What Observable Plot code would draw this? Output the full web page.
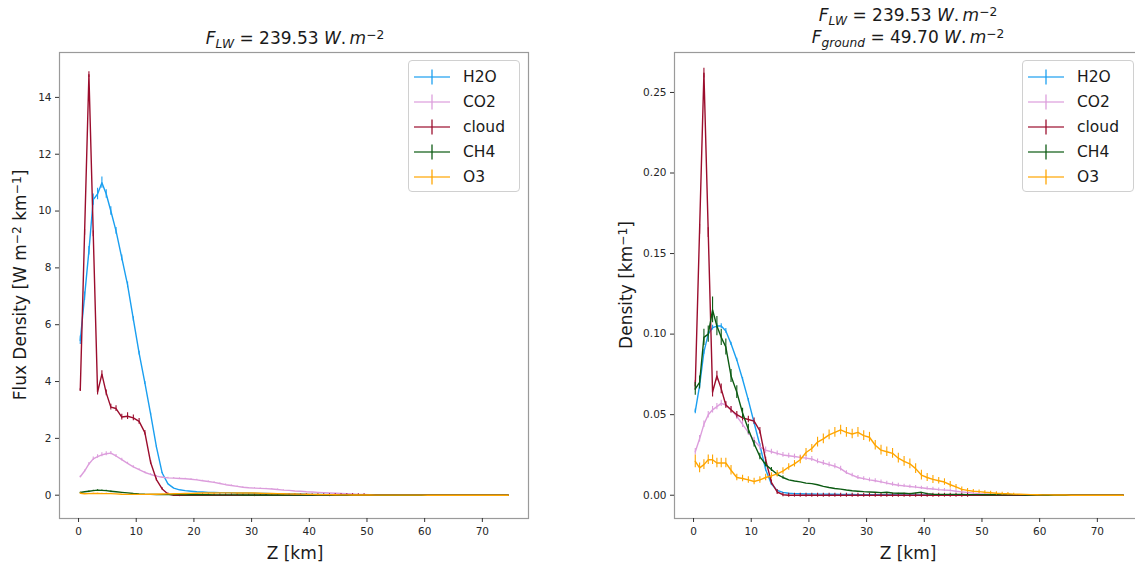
<!DOCTYPE html>
<html>
<head>
<meta charset="utf-8">
<script src="https://cdn.jsdelivr.net/npm/d3@7"></script>
<script src="https://cdn.jsdelivr.net/npm/@observablehq/plot@0.6"></script>
<style>
  html, body { margin: 0; padding: 0; background: #fff; }
  body { width: 1135px; height: 568px; position: relative; overflow: hidden; font-family: "DejaVu Sans", sans-serif; color: #1a1a1a; }
  .abs { position: absolute; }
  .abs svg { max-width: none !important; }
  .title { font-size: 17px; line-height: 20px; text-align: center; white-space: nowrap; transform: translateX(-50%); }
  .sub { font-size: 0.72em; position: relative; top: 0.32em; }
  .sup { font-size: 0.72em; position: relative; top: -0.45em; }
  .xlabel { font-size: 17px; line-height: 20px; white-space: nowrap; transform: translateX(-50%); }
  .ylabel { font-size: 17px; line-height: 20px; white-space: nowrap; transform: translate(-50%, -50%) rotate(-90deg); }
  .legend { border: 1px solid #d0d0d0; border-radius: 4px; background: rgba(255,255,255,0.85); box-sizing: border-box; padding-top: 3px; }
  .legend .row { height: 25px; display: flex; align-items: center; font-size: 15.5px; }
  .legend svg { margin-left: 5px; margin-right: 13px; }
</style>
</head>
<body>
<script>
// ---------- data ----------
const names = ["H2O", "CO2", "cloud", "CH4", "O3"];
const colors = ["#1a9ff0", "#dc9ddc", "#9b0d2d", "#0b5a12", "#ffa500"];
const xTicks = [0, 10, 20, 30, 40, 50, 60, 70];
const yTicksFlux = [0, 2, 4, 6, 8, 10, 12, 14];
const yTicksDens = [0, 0.05, 0.10, 0.15, 0.20, 0.25];

// altitude of each level [km]
const Z = [0.3, 1.05, 1.8, 2.55, 3.3, 4.05, 4.8, 5.6,
  6.5, 7.5, 8.5, 9.5, 10.5, 11.5, 12.5, 13.5, 14.5, 15.5,
  16.5, 17.5, 18.5, 19.5, 20.5, 21.5, 22.5, 23.5, 24.5, 25.5,
  26.5, 27.5, 28.5, 29.5, 30.5, 31.5, 32.5, 33.5, 34.5, 35.5,
  36.5, 37.5, 38.5, 39.5, 40.5, 41.5, 42.5, 43.5, 44.5, 45.5,
  46.5, 47.5, 48.5, 49.5, 50.5, 51.5, 52.5, 53.5, 54.5, 55.5,
  56.5, 57.5, 58.5, 59.5, 60.5, 61.5, 62.5, 63.5, 64.5, 65.5,
  66.5, 67.5, 68.5, 69.5, 70.5, 71.5, 72.5, 73.5, 74.5];

// ---- left panel: flux density [W m-2 km-1] ----
const h2oFlux = [5.45, 7.0, 8.6, 10.4, 10.6, 11.0, 10.6, 10.0,
  9.3, 8.35, 7.4, 6.2, 5.0, 3.95, 2.85, 1.7, 0.78, 0.4,
  0.25, 0.19, 0.16, 0.14, 0.12, 0.11, 0.1, 0.1, 0.09, 0.09,
  0.085, 0.08, 0.08, 0.075, 0.07, 0.065, 0.06, 0.055, 0.05, 0.05,
  0.045, 0.04, 0.04, 0.035, 0.03, 0.03, 0.025, 0.025, 0.02, 0.02,
  0.018, 0.015, 0.013, 0.012, 0.01, 0.008, 0.007, 0.006, 0.005, 0.004,
  0.003, 0.003, 0.002, 0.002, 0.001, 0.001, 0.001, 0, 0, 0,
  0, 0, 0, 0, 0, 0, 0, 0, 0];
const h2oFluxErr = [0.15, 0.15, 0.15, 0.2, 0.2, 0.2, 0.15, 0.15,
  0.12, 0.1, 0.1, 0.08, 0.07, 0.05, 0.04, 0.03, 0.02, 0.01];

const co2Flux = [0.65, 0.85, 1.1, 1.28, 1.36, 1.42, 1.46, 1.48,
  1.38, 1.25, 1.12, 1.0, 0.9, 0.8, 0.73, 0.67, 0.63, 0.61,
  0.6, 0.59, 0.58, 0.56, 0.54, 0.51, 0.48, 0.45, 0.41, 0.37,
  0.34, 0.31, 0.28, 0.26, 0.25, 0.24, 0.23, 0.22, 0.2, 0.18,
  0.17, 0.15, 0.14, 0.12, 0.11, 0.1, 0.09, 0.08, 0.07, 0.06,
  0.05, 0.04, 0.03, 0.025, 0.02, 0.015, 0.01, 0.008, 0.006, 0.004,
  0.003, 0.002, 0.002, 0.001, 0.001, 0, 0, 0, 0, 0,
  0, 0, 0, 0, 0, 0, 0, 0, 0];
const co2FluxErr = [0.03, 0.04, 0.05, 0.06, 0.06, 0.07, 0.07, 0.06,
  0.05, 0.05, 0.04, 0.04, 0.03, 0.03, 0.03, 0.02, 0.02, 0.02,
  0.02, 0.02, 0.02, 0.02, 0.02, 0.02, 0.02, 0.02, 0.02, 0.02,
  0.015, 0.015, 0.015, 0.015, 0.015, 0.015, 0.015, 0.015, 0.015, 0.015];

const cloudFlux = [3.7, 9.25, 14.8, 9.2, 3.63, 4.26, 3.6, 3.1,
  3.05, 2.75, 2.78, 2.72, 2.6, 2.2, 1.15, 0.55, 0.22, 0.04,
  0, 0, 0, 0, 0, 0, 0, 0, 0, 0,
  0, 0, 0, 0, 0, 0, 0, 0, 0, 0,
  0, 0, 0, 0, 0, 0, 0, 0, 0, 0,
  0, 0, 0, 0, 0, 0, 0, 0, 0, 0,
  0, 0, 0, 0, 0, 0, 0, 0, 0, 0,
  0, 0, 0, 0, 0, 0, 0, 0, 0];
const cloudFluxErr = [0.05, 0.1, 0.1, 0.1, 0.1, 0.12, 0.1, 0.1,
  0.1, 0.1, 0.12, 0.1, 0.1, 0.08, 0.06, 0.05, 0.04, 0.04,
  0.05, 0.05, 0.05, 0.05, 0.05, 0.05, 0.05, 0.05, 0.05, 0.05,
  0.05, 0.05, 0.05, 0.05, 0.05, 0.05, 0.05, 0.05, 0.05, 0.05,
  0.05, 0.05, 0.05, 0.05, 0.05, 0.05, 0.05, 0.05, 0.05, 0.05,
  0.05, 0.05, 0.05, 0.05];

const ch4Flux = [0.095, 0.12, 0.14, 0.16, 0.18, 0.17, 0.16, 0.14,
  0.12, 0.1, 0.08, 0.06, 0.045, 0.035, 0.03, 0.025, 0.02, 0.02,
  0.02, 0.02, 0.018, 0.018, 0.016, 0.015, 0.014, 0.013, 0.012, 0.011,
  0.01, 0.01, 0.009, 0.008, 0.008, 0.007, 0.006, 0.006, 0.005, 0.005,
  0.004, 0.004, 0.004, 0.005, 0.003, 0.002, 0.002, 0.002, 0.002, 0.002,
  0.002, 0.001, 0.001, 0.001, 0.001, 0.001, 0, 0, 0, 0,
  0, 0, 0, 0, 0, 0, 0, 0, 0, 0,
  0, 0, 0, 0, 0, 0, 0, 0, 0];
const ch4FluxErr = [0.01, 0.01, 0.01, 0.01, 0.012, 0.01, 0.01, 0.01];

const o3Flux = [0.07, 0.05, 0.055, 0.06, 0.06, 0.055, 0.055, 0.055,
  0.045, 0.035, 0.03, 0.03, 0.028, 0.03, 0.033, 0.036, 0.04, 0.045,
  0.05, 0.055, 0.06, 0.065, 0.07, 0.075, 0.078, 0.08, 0.082, 0.083,
  0.082, 0.08, 0.08, 0.078, 0.075, 0.07, 0.065, 0.06, 0.057, 0.052,
  0.048, 0.044, 0.038, 0.032, 0.028, 0.025, 0.022, 0.02, 0.016, 0.013,
  0.01, 0.008, 0.007, 0.006, 0.005, 0.004, 0.003, 0.003, 0.002, 0.002,
  0.0015, 0.001, 0.001, 0.001, 0.0008, 0.0006, 0.0005, 0.0004, 0.0003, 0.0002,
  0.0002, 0.0001, 0.0001, 0.0001, 0, 0, 0, 0, 0];
const o3FluxErr = [0.01, 0.01, 0.01, 0.01, 0.01, 0.01, 0.01, 0.01];

// ---- right panel: density [km-1] ----
const h2oDens = [0.052, 0.068, 0.089, 0.1, 0.104, 0.105, 0.105, 0.102,
  0.094, 0.084, 0.072, 0.059, 0.045, 0.031, 0.016, 0.007, 0.003, 0.0018,
  0.0012, 0.001, 0.0009, 0.0008, 0.0008, 0.0007, 0.0007, 0.0006, 0.0006, 0.0005,
  0.0005, 0.0005, 0.0004, 0.0004, 0.0004, 0.0003, 0.0003, 0.0003, 0.0003, 0.0002,
  0.0002, 0.0002, 0.0002, 0.0002, 0.0001, 0.0001, 0.0001, 0.0001, 0.0001, 0.0001,
  0, 0, 0, 0, 0, 0, 0, 0, 0, 0,
  0, 0, 0, 0, 0, 0, 0, 0, 0, 0,
  0, 0, 0, 0, 0, 0, 0, 0, 0];
const h2oDensErr = [0.0015, 0.0015, 0.0015, 0.0015, 0.0015, 0.0015, 0.0015, 0.0015,
  0.001, 0.001, 0.001, 0.001, 0.001, 0.001, 0.001, 0.001];

const co2Dens = [0.027, 0.035, 0.044, 0.05, 0.053, 0.055, 0.057, 0.056,
  0.053, 0.049, 0.044, 0.039, 0.034, 0.03, 0.028, 0.027, 0.026, 0.025,
  0.0245, 0.024, 0.0235, 0.023, 0.0225, 0.021, 0.02, 0.019, 0.018, 0.0165,
  0.014, 0.0125, 0.011, 0.0103, 0.0095, 0.009, 0.0083, 0.0075, 0.0068, 0.0062,
  0.0058, 0.0054, 0.005, 0.0046, 0.0042, 0.0039, 0.0035, 0.0032, 0.003, 0.0025,
  0.0021, 0.0017, 0.0013, 0.001, 0.0008, 0.0006, 0.0005, 0.0004, 0.0003, 0.0002,
  0.0001, 0.0001, 0, 0, 0, 0, 0, 0, 0, 0,
  0, 0, 0, 0, 0, 0, 0, 0, 0];
const co2DensErr = [0.002, 0.002, 0.002, 0.002, 0.002, 0.002, 0.002, 0.002,
  0.002, 0.002, 0.002, 0.002, 0.002, 0.002, 0.002, 0.0015, 0.0015, 0.0015,
  0.0015, 0.0015, 0.0015, 0.0015, 0.0015, 0.0015, 0.0015, 0.0015, 0.0015, 0.0015,
  0.0012, 0.0012, 0.0012, 0.0012, 0.0012, 0.0012, 0.0012, 0.0012, 0.0012, 0.0012,
  0.001, 0.001, 0.001, 0.001, 0.001, 0.001, 0.001, 0.001, 0.001, 0.001,
  0.001, 0.001, 0.001, 0.001];

const cloudDens = [0.068, 0.165, 0.262, 0.163, 0.064, 0.074, 0.066, 0.056,
  0.053, 0.05, 0.048, 0.047, 0.046, 0.04, 0.022, 0.008, 0.002, 0.0003,
  0, 0, 0, 0, 0, 0, 0, 0, 0, 0,
  0, 0, 0, 0, 0, 0, 0, 0, 0, 0,
  0, 0, 0, 0, 0, 0, 0, 0, 0, 0,
  0, 0, 0, 0, 0, 0, 0, 0, 0, 0,
  0, 0, 0, 0, 0, 0, 0, 0, 0, 0,
  0, 0, 0, 0, 0, 0, 0, 0, 0];
const cloudDensErr = [0.003, 0.003, 0.003, 0.003, 0.003, 0.003, 0.003, 0.002,
  0.002, 0.002, 0.002, 0.002, 0.002, 0.002, 0.0015, 0.0015, 0.0015, 0.0012,
  0.0012, 0.0012, 0.0012, 0.0012, 0.0012, 0.0012, 0.0012, 0.0012, 0.0012, 0.0012,
  0.0012, 0.0012, 0.0012, 0.0012, 0.0012, 0.0012, 0.0012, 0.0012, 0.0012, 0.0012,
  0.0012, 0.0012, 0.0012, 0.0012, 0.0012, 0.0012, 0.0012, 0.0012, 0.0012, 0.0012,
  0.0012, 0.0012];

const ch4Dens = [0.066, 0.07, 0.098, 0.1, 0.115, 0.105, 0.098, 0.092,
  0.074, 0.064, 0.051, 0.041, 0.032, 0.024, 0.019, 0.016, 0.013, 0.011,
  0.0095, 0.0088, 0.0083, 0.0075, 0.0072, 0.0065, 0.0055, 0.0048, 0.0042, 0.0038,
  0.0032, 0.0028, 0.0025, 0.0022, 0.002, 0.0018, 0.0016, 0.0018, 0.0014, 0.0012,
  0.0013, 0.001, 0.0014, 0.0018, 0.001, 0.0006, 0.0005, 0.0005, 0.0005, 0.0005,
  0.0005, 0.0004, 0.0004, 0.0004, 0.0003, 0.0003, 0.0003, 0.0002, 0.0002, 0.0002,
  0.0002, 0.0001, 0.0001, 0.0001, 0.0001, 0, 0, 0, 0, 0,
  0, 0, 0, 0, 0, 0, 0, 0, 0];
const ch4DensErr = [0.004, 0.004, 0.005, 0.005, 0.008, 0.006, 0.005, 0.005,
  0.004, 0.004, 0.003, 0.003, 0.002, 0.002, 0.0015, 0.0012, 0.001, 0.001];

const o3Dens = [0.021, 0.017, 0.019, 0.022, 0.022, 0.02, 0.02, 0.02,
  0.0155, 0.011, 0.0104, 0.0095, 0.0085, 0.0095, 0.011, 0.012, 0.0133, 0.015,
  0.0175, 0.0195, 0.022, 0.0265, 0.029, 0.033, 0.035, 0.0375, 0.039, 0.0405,
  0.039, 0.038, 0.039, 0.037, 0.036, 0.031, 0.028, 0.027, 0.026, 0.023,
  0.021, 0.0195, 0.0165, 0.0125, 0.011, 0.0098, 0.009, 0.0082, 0.0065, 0.0052,
  0.0036, 0.003, 0.0025, 0.0022, 0.0018, 0.0015, 0.0012, 0.001, 0.0009, 0.0007,
  0.0006, 0.0005, 0.0004, 0.0003, 0.0002, 0.0002, 0.0001, 0.0001, 0.0001, 0,
  0, 0, 0, 0, 0, 0, 0, 0, 0];
const o3DensErr = [0.004, 0.003, 0.003, 0.003, 0.003, 0.003, 0.003, 0.003,
  0.003, 0.002, 0.002, 0.002, 0.002, 0.002, 0.002, 0.002, 0.002, 0.002,
  0.002, 0.002, 0.0025, 0.0025, 0.0025, 0.003, 0.003, 0.003, 0.003, 0.003,
  0.003, 0.003, 0.003, 0.003, 0.003, 0.003, 0.003, 0.003, 0.003, 0.003,
  0.003, 0.003, 0.003, 0.003, 0.0025, 0.0025, 0.002, 0.002, 0.002, 0.0015,
  0.0015, 0.0012, 0.001, 0.001, 0.001, 0.001, 0.001, 0.0008, 0.0008, 0.0006];

// ---------- drawing ----------
function makePanel({values, errors, yDomain, yTicks, yFormat, width, marginLeft, marginRight}) {
  const marks = [Plot.frame({stroke: "#9a9a9a", strokeWidth: 1.2})];
  values.forEach((vals, k) => {
    const errs = errors[k];
    const data = Z.map((z, i) => ({z, v: vals[i], e: errs[i] ?? 0}));
    marks.push(Plot.ruleX(data.filter(d => d.e > 0), {
      x: "z", y1: d => d.v - d.e, y2: d => d.v + d.e,
      stroke: colors[k], strokeWidth: 1.1
    }));
    marks.push(Plot.line(data, {x: "z", y: "v", stroke: colors[k], strokeWidth: 1.4}));
  });
  marks.push(Plot.axisX({ticks: xTicks, tickSize: 4, tickPadding: 5, label: null, stroke: "#333", fill: "#262626", fontSize: 10.5}));
  marks.push(Plot.axisY({ticks: yTicks, tickFormat: yFormat, tickSize: 4, tickPadding: 4, label: null, stroke: "#333", fill: "#262626", fontSize: 10.5}));
  return Plot.plot({
    width, height: 568,
    marginTop: 52, marginBottom: 50, marginLeft, marginRight,
    style: {fontFamily: "DejaVu Sans", background: "transparent", overflow: "visible", maxWidth: "none"},
    x: {domain: [-3.3, 78.0]},
    y: {domain: yDomain},
    marks
  });
}

const left = makePanel({
  values: [h2oFlux, co2Flux, cloudFlux, ch4Flux, o3Flux],
  errors: [h2oFluxErr, co2FluxErr, cloudFluxErr, ch4FluxErr, o3FluxErr],
  yDomain: [-0.82, 15.58], yTicks: yTicksFlux, yFormat: d3.format("d"),
  width: 560, marginLeft: 59, marginRight: 32
});
const right = makePanel({
  values: [h2oDens, co2Dens, cloudDens, ch4Dens, o3Dens],
  errors: [h2oDensErr, co2DensErr, cloudDensErr, ch4DensErr, o3DensErr],
  yDomain: [-0.01445, 0.2748], yTicks: yTicksDens, yFormat: d3.format(".2f"),
  width: 600, marginLeft: 99, marginRight: 32
});

function place(el, x, y, w) {
  const d = document.createElement("div");
  d.className = "abs";
  d.style.left = x + "px"; d.style.top = y + "px";
  d.style.width = w + "px"; d.style.height = "568px";
  d.appendChild(el);
  document.body.appendChild(d);
}
place(left, 0, 0, 560);
place(right, 575, 0, 600);

function html(cls, x, y, inner) {
  const d = document.createElement("div");
  d.className = "abs " + cls;
  d.style.left = x + "px"; d.style.top = y + "px";
  d.innerHTML = inner;
  document.body.appendChild(d);
  return d;
}
const fLW = '<i>F</i><span class="sub"><i>LW</i></span> = 239.53 <i>W</i>.&thinsp;<i>m</i><span class="sup">−2</span>';
const fGround = '<i>F</i><span class="sub"><i>ground</i></span> = 49.70 <i>W</i>.&thinsp;<i>m</i><span class="sup">−2</span>';
html("title", 295, 28, fLW);
html("title", 908, 5, fLW);
html("title", 908, 27, fGround);

html("xlabel", 295, 543, "Z [km]");
html("xlabel", 908, 543, "Z [km]");
html("ylabel", 21, 285, 'Flux Density [W m<span class="sup">−2</span> km<span class="sup">−1</span>]');
html("ylabel", 627, 285, 'Density [km<span class="sup">−1</span>]');

function legend(x, w) {
  const rows = names.map((n, k) =>
    `<div class="row"><svg width="36" height="20"><g stroke="${colors[k]}" stroke-opacity="0.8" stroke-width="1.6">` +
    `<line x1="0" y1="10" x2="36" y2="10"/><line x1="18" y1="2.5" x2="18" y2="17.5"/></g></svg>${n}</div>`).join("");
  const d = html("legend", x, 60, rows);
  d.style.width = w + "px";
  d.style.height = "132px";
}
legend(408, 112);
legend(1022, 112);
</script>
</body>
</html>
